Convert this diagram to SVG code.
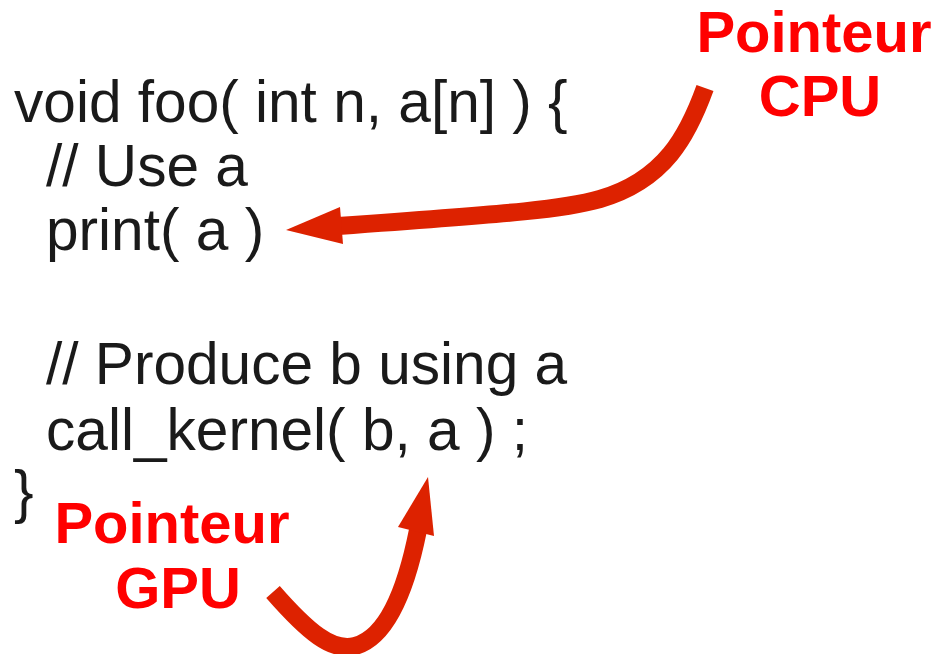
<svg xmlns="http://www.w3.org/2000/svg" width="941" height="654" viewBox="0 0 941 654">
  <style>
    .code { font-family: "Liberation Sans", Arial, sans-serif; font-size: 58.6px; fill: #1a1a1a; }
    .label { font-family: "Liberation Sans", Arial, sans-serif; font-size: 58px; font-weight: bold; fill: #ff0000; text-anchor: middle; }
    .shaft { fill: none; stroke: #dd2200; stroke-width: 18; stroke-linecap: butt; }
    .head { fill: #dd2200; }
  </style>
  <rect width="941" height="654" fill="#ffffff"/>

  <!-- source listing -->
  <g id="code">
    <text class="code" x="14" y="122">void foo( int n, a[n] ) {</text>
    <text class="code" x="46" y="186">// Use a</text>
    <text class="code" x="46" y="250">print( a )</text>
    <text class="code" x="46" y="384">// Produce b using a</text>
    <text class="code" x="46" y="450">call_kernel( b, a ) ;</text>
    <text class="code" x="14" y="512">}</text>
  </g>

  <g id="cpu-label">
    <text class="label" x="814" y="52">Pointeur</text>
    <text class="label" x="820" y="116">CPU</text>
  </g>

  <g id="gpu-label">
    <text class="label" x="172" y="543">Pointeur</text>
    <text class="label" x="178" y="608">GPU</text>
  </g>

  <g id="connectors">
    <!-- CPU pointer to print( a ) -->
    <path class="shaft" d="M 705,88 C 688,135 665,180 600,199 C 565,209 520,213 338,226"/>
    <polygon class="head" points="286,230 340,207 343,244"/>
    <!-- GPU pointer to call_kernel argument -->
    <path class="shaft" d="M 273,592 C 308,632 332,652 355,646 C 385,638 405,595 418,530"/>
    <polygon class="head" points="428,477 398,527 434,536"/>
  </g>
</svg>
